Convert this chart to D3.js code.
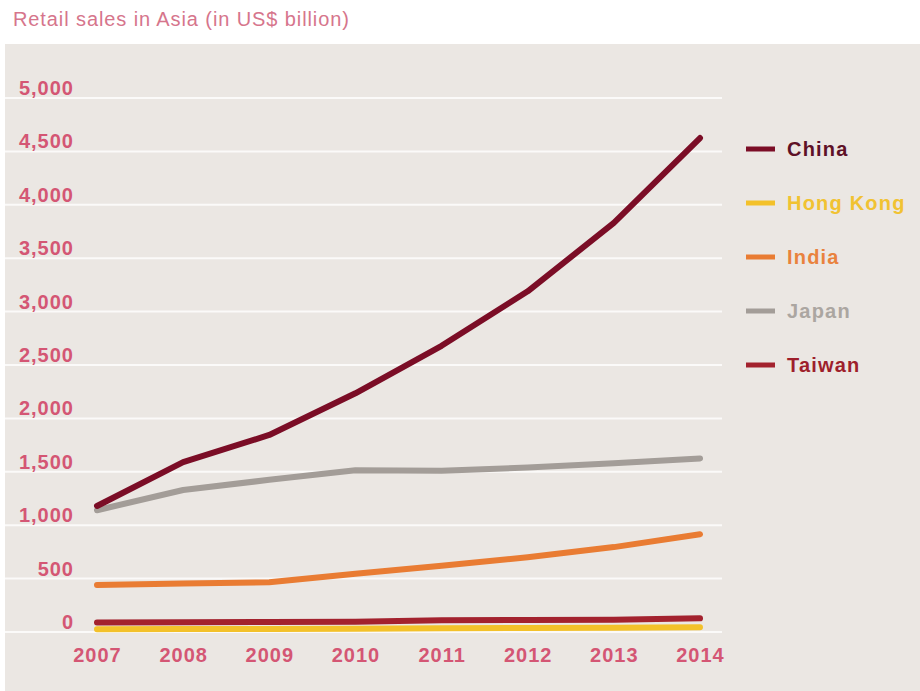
<!DOCTYPE html>
<html>
<head>
<meta charset="utf-8">
<script src="https://cdn.jsdelivr.net/npm/d3@7/dist/d3.min.js"></script>
<style>
  html, body { margin: 0; padding: 0; background: #ffffff; }
  svg { display: block; }
  text { font-family: "Liberation Sans", Arial, Helvetica, sans-serif; }
</style>
</head>
<body>
<svg id="chart" width="920" height="691"></svg>
<script>
// Retail sales in Asia, US$ billion
const years = ["2007", "2008", "2009", "2010", "2011", "2012", "2013", "2014"];
const china    = [1180, 1590, 1845, 2235, 2680, 3190, 3830, 4625];
const hongKong = [25, 27, 28, 30, 34, 37, 40, 45];
const india    = [440, 455, 465, 545, 620, 700, 795, 915];
const japan    = [1140, 1330, 1425, 1515, 1510, 1540, 1580, 1625];
const taiwan   = [90, 92, 93, 95, 110, 112, 115, 128];
const yTicks   = [0, 500, 1000, 1500, 2000, 2500, 3000, 3500, 4000, 4500, 5000];

const series = [
  { name: "China",     values: china },
  { name: "Hong Kong", values: hongKong },
  { name: "India",     values: india },
  { name: "Japan",     values: japan },
  { name: "Taiwan",    values: taiwan }
];

const lineColor = {
  "China": "#7b0d26",
  "Hong Kong": "#f3c12a",
  "India": "#e97c33",
  "Japan": "#a39d98",
  "Taiwan": "#a3222e"
};
const labelColor = {
  "China": "#5e1127",
  "Hong Kong": "#f1c232",
  "India": "#e9823d",
  "Japan": "#aba6a1",
  "Taiwan": "#9e1f2c"
};

const svg = d3.select("#chart");
const W = 920, H = 691;

// panel background
svg.append("rect").attr("x", 5).attr("y", 44).attr("width", W - 5).attr("height", H - 44)
  .attr("fill", "#ebe7e3");

// title
svg.append("text").attr("x", 13).attr("y", 26)
  .attr("font-size", 20).attr("letter-spacing", "0.9px").attr("fill", "#d6758c")
  .text("Retail sales in Asia (in US$ billion)");

const x = d3.scalePoint().domain(years).range([97, 700]);
const y = d3.scaleLinear().domain([0, 5000]).range([632, 98]);

// horizontal gridlines
svg.append("g").selectAll("line").data(yTicks).join("line")
  .attr("x1", 5).attr("x2", 722)
  .attr("y1", d => y(d)).attr("y2", d => y(d))
  .attr("stroke", "#fbfaf9").attr("stroke-width", 2);

// y axis labels (sit just above their gridline)
const yAxis = d3.axisLeft(y).tickValues(yTicks).tickSize(0).tickPadding(0)
  .tickFormat(d3.format(","));
const gy = svg.append("g").attr("transform", "translate(73,-10)").call(yAxis);
gy.select(".domain").remove();
gy.selectAll("text")
  .attr("font-size", 20).attr("font-weight", "bold").attr("letter-spacing", "1px")
  .attr("fill", "#d45674").attr("font-family", "Liberation Sans, Arial, sans-serif")
  .attr("dx", "1px");

// x axis labels
const xAxis = d3.axisBottom(x).tickSize(0).tickPadding(0);
const gx = svg.append("g").attr("transform", "translate(0,648)").call(xAxis);
gx.select(".domain").remove();
gx.selectAll("text")
  .attr("font-size", 20).attr("font-weight", "bold").attr("letter-spacing", "1px")
  .attr("fill", "#d45674").attr("font-family", "Liberation Sans, Arial, sans-serif")
  .attr("dy", "0.71em");

// lines
const line = d3.line()
  .x((d, i) => x(years[i]))
  .y(d => y(d));

const drawOrder = ["Hong Kong", "Taiwan", "India", "Japan", "China"];
svg.append("g").selectAll("path")
  .data(drawOrder.map(n => series.find(s => s.name === n)))
  .join("path")
  .attr("d", d => line(d.values))
  .attr("fill", "none")
  .attr("stroke", d => lineColor[d.name])
  .attr("stroke-width", 6)
  .attr("stroke-linejoin", "round")
  .attr("stroke-linecap", "round");

// legend
const legend = svg.append("g").attr("transform", "translate(746,149)");
const item = legend.selectAll("g").data(series).join("g")
  .attr("transform", (d, i) => `translate(0,${i * 54})`);
item.append("line")
  .attr("x1", 0).attr("x2", 29).attr("y1", 0).attr("y2", 0)
  .attr("stroke", d => lineColor[d.name]).attr("stroke-width", 5);
item.append("text")
  .attr("x", 41).attr("y", 0).attr("dy", "0.36em")
  .attr("font-size", 20).attr("font-weight", "bold").attr("letter-spacing", "1.2px")
  .attr("fill", d => labelColor[d.name])
  .text(d => d.name);
</script>
</body>
</html>
